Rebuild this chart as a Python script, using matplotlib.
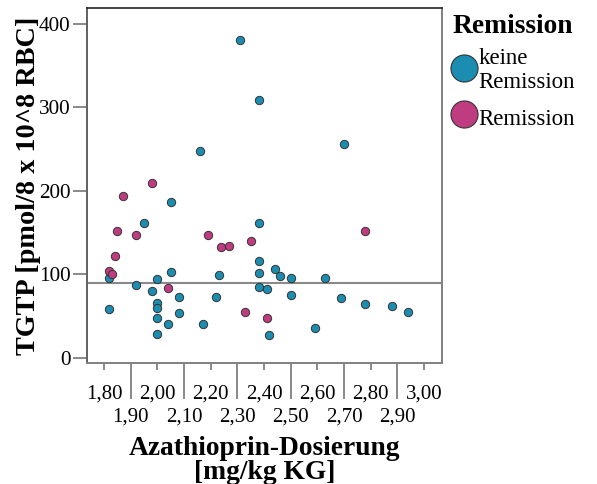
import matplotlib
matplotlib.use("Agg")
import matplotlib.pyplot as plt
from matplotlib.lines import Line2D

plt.rcParams['font.family'] = ['Liberation Serif', 'DejaVu Serif']

# dosage [mg/kg KG] and TGTP level per patient
dose_none = [2.31, 2.38, 2.16, 2.70, 2.05, 1.95, 1.82, 1.82, 2.00, 2.05, 1.92, 1.98,
             2.08, 2.00, 2.00, 2.00, 2.08, 2.04, 2.00, 2.38, 2.38, 2.38, 2.44, 2.23,
             2.22, 2.17, 2.38, 2.41, 2.42, 2.46, 2.50, 2.63, 2.50, 2.69, 2.78, 2.88,
             2.94, 2.59]
tgtp_none = [381, 309, 248, 256, 187, 162, 95, 58, 94, 103, 87, 80,
             73, 65, 60, 48, 53, 40, 28, 162, 116, 101, 106, 99,
             73, 41, 85, 82, 27, 98, 95, 96, 75, 71, 64, 62,
             55, 36]
dose_rem = [1.98, 1.87, 1.85, 1.92, 1.84, 1.82, 1.83, 2.04, 2.19, 2.24, 2.27, 2.35,
            2.33, 2.41, 2.78]
tgtp_rem = [210, 194, 152, 147, 122, 104, 100, 83, 147, 133, 134, 140,
            55, 48, 152]
cutoff = 90

major_x = [1.8, 2.0, 2.2, 2.4, 2.6, 2.8, 3.0]
minor_x = [1.9, 2.1, 2.3, 2.5, 2.7, 2.9]
y_ticks = [0, 100, 200, 300, 400]

teal = '#1b8db0'
magenta = '#c03c80'
frame = '#808080'

fig = plt.figure(figsize=(5.97, 4.84), dpi=100)
ax = fig.add_axes([0.1452, 0.2506, 0.5947, 0.7324])

ax.axhline(cutoff, color='#8a8a8a', lw=1.5, zorder=1)
ax.scatter(dose_none, tgtp_none, s=36, color=teal, edgecolor='#333333', lw=0.7, zorder=3)
ax.scatter(dose_rem, tgtp_rem, s=36, color=magenta, edgecolor='#333333', lw=0.7, zorder=3)

ax.set_xlim(1.735, 3.066)
ax.set_ylim(-6, 419)

for side in ['left', 'bottom', 'right']:
    ax.spines[side].set_color(frame)
    ax.spines[side].set_linewidth(1.4)
ax.spines['left'].set_color('#606060')
ax.spines['top'].set_color('#222222')
ax.spines['top'].set_linewidth(1.2)

# staggered x labels: even tenths on the first row, odd tenths below on long ticks
ax.set_xticks(major_x)
ax.set_xticklabels([f"{v:.2f}".replace('.', ',') for v in major_x])
ax.set_xticks(minor_x, minor=True)
ax.set_xticklabels([f"{v:.2f}".replace('.', ',') for v in minor_x], minor=True)
ax.tick_params(axis='x', which='major', length=5, width=1.3, color=frame,
               labelsize=15, pad=10.8)
ax.tick_params(axis='x', which='minor', length=26, width=1.3, color=frame,
               labelsize=15, pad=6.5)

ax.set_yticks(y_ticks)
ax.tick_params(axis='y', length=10, width=1.3, color=frame, labelsize=15.3, pad=1.5)

ax.set_xlabel('Azathioprin-Dosierung\n[mg/kg KG]', fontsize=19.8, fontweight='bold',
              linespacing=0.95, labelpad=6.5)
ax.set_ylabel('TGTP [pmol/8 x 10^8 RBC]', fontsize=20.3, fontweight='bold', labelpad=-1.5)

handles = [
    Line2D([], [], ls='none', marker='o', ms=19.5, mfc=teal, mec='#333333', mew=0.8),
    Line2D([], [], ls='none', marker='o', ms=19.5, mfc=magenta, mec='#333333', mew=0.8),
]
leg = fig.legend(handles, ['keine\nRemission', 'Remission'], title='Remission',
                 loc='upper left', bbox_to_anchor=(0.755, 0.971), frameon=False,
                 fontsize=16.5, title_fontproperties={'weight': 'bold', 'size': 19.8},
                 handletextpad=0.0, handlelength=1.2, handleheight=1.6,
                 labelspacing=0.4, borderaxespad=0, borderpad=0)
for t in leg.get_texts():
    t.set_linespacing(1.2)

fig.savefig('out.png', dpi=100)
